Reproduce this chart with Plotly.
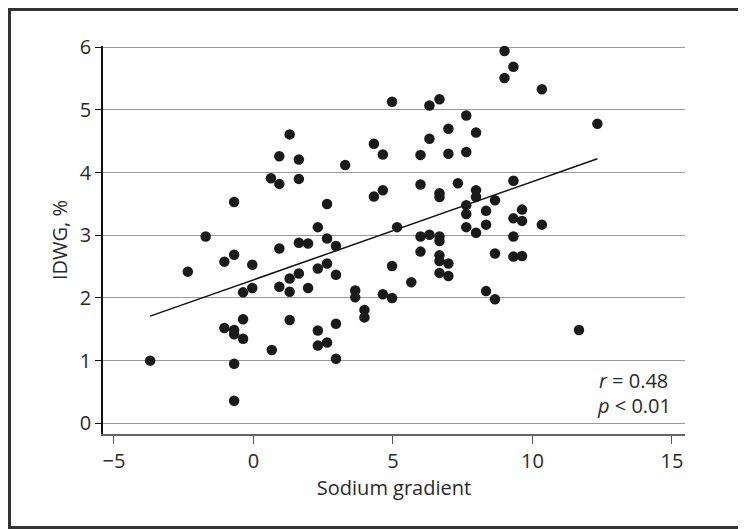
import plotly.graph_objects as go

# Data
sodium_gradient = [
    -0.69, 0.63, 0.93, 0.93, -1.71, -2.35, -1.04, -0.69, -0.04, 0.93,
    0.93, -0.04, -0.37, -0.37, -1.04, -0.69, -0.69, -0.37, 0.66, -3.70,
    -0.69, -0.69, 1.30, 1.63, 1.63, 2.64, 2.31, 3.29, 4.32, 4.64,
    4.97, 4.32, 4.64, 5.15, 5.99, 6.31, 6.67, 6.31, 6.99, 6.99,
    7.63, 7.63, 5.99, 6.67, 6.67, 7.33, 7.63, 7.63, 7.63, 1.63,
    1.96, 1.30, 1.63, 1.30, 1.96, 2.64, 2.96, 2.31, 2.64, 2.96,
    1.30, 2.31, 2.96, 2.31, 2.64, 2.96, 3.65, 3.65, 3.98, 3.98,
    4.64, 4.97, 4.97, 5.66, 5.99, 6.31, 6.67, 6.67, 5.99, 6.67,
    6.67, 6.99, 6.67, 6.99, 9.00, 9.32, 9.00, 10.34, 12.33, 7.98,
    9.32, 7.98, 7.98, 8.66, 8.34, 9.63, 9.32, 9.63, 8.34, 10.34,
    7.98, 9.32, 8.66, 9.32, 9.63, 8.34, 8.66, 11.67,
]
idwg = [
    3.53, 3.91, 4.26, 3.82, 2.98, 2.42, 2.58, 2.69, 2.53, 2.79,
    2.18, 2.16, 2.09, 1.66, 1.52, 1.49, 1.42, 1.35, 1.17, 1.00,
    0.95, 0.36, 4.61, 4.21, 3.90, 3.50, 3.13, 4.12, 4.46, 4.29,
    5.13, 3.62, 3.72, 3.13, 4.28, 5.07, 5.17, 4.54, 4.70, 4.30,
    4.91, 4.33, 3.81, 3.67, 3.61, 3.83, 3.48, 3.34, 3.13, 2.88,
    2.87, 2.31, 2.39, 2.10, 2.16, 2.95, 2.83, 2.47, 2.55, 2.37,
    1.65, 1.48, 1.59, 1.24, 1.29, 1.03, 2.12, 2.01, 1.81, 1.69,
    2.06, 2.00, 2.51, 2.25, 2.98, 3.01, 2.98, 2.91, 2.74, 2.68,
    2.59, 2.55, 2.40, 2.35, 5.94, 5.69, 5.51, 5.33, 4.78, 4.64,
    3.87, 3.72, 3.61, 3.56, 3.39, 3.41, 3.27, 3.23, 3.17, 3.17,
    3.04, 2.98, 2.71, 2.66, 2.67, 2.11, 1.98, 1.49,
]
fit_x = [-3.70, 12.33]
fit_y = [1.71, 4.22]

x_ticks = [-5, 0, 5, 10, 15]
y_ticks = [0, 1, 2, 3, 4, 5, 6]

# The page body has an 8px margin, so the figure is sized to end at the window edge
W, H = 738, 521
ML, MR, MT, MB = 95, 61, 38, 95
PW, PH = W - ML - MR, H - MT - MB

FONT = "Open Sans"
TXT = "#2a2a2a"
FS = 20

fig = go.Figure()
fig.add_trace(go.Scatter(
    x=fit_x, y=fit_y, mode="lines",
    line=dict(color="#111111", width=1.5),
    hoverinfo="skip", showlegend=False,
))
fig.add_trace(go.Scatter(
    x=sodium_gradient, y=idwg, mode="markers",
    marker=dict(size=10.5, color="#1a1a1a", line=dict(width=0)),
    showlegend=False,
))

fig.update_layout(
    width=W, height=H,
    margin=dict(l=ML, r=MR, t=MT, b=MB, pad=0),
    paper_bgcolor="white", plot_bgcolor="white",
    font=dict(family=FONT, size=FS, color=TXT),
    xaxis=dict(
        range=[-5.39, 15.47], tickvals=x_ticks,
        showgrid=False, zeroline=False,
        showline=True, linecolor="#666666", linewidth=1.5,
        ticks="outside", ticklen=8, tickwidth=1.2, tickcolor="#555555",
        tickfont=dict(size=FS, color=TXT),
        title=dict(text="Sodium gradient", font=dict(size=FS, color=TXT), standoff=4),
    ),
    yaxis=dict(
        range=[-0.17, 6.02], tickvals=y_ticks,
        showgrid=True, gridcolor="#9a9a9a", gridwidth=1.3,
        zeroline=False,
        showline=True, linecolor="#111111", linewidth=1.5,
        ticks="outside", ticklen=6, tickwidth=1.2, tickcolor="#111111",
        tickfont=dict(size=FS, color=TXT),
        title=dict(text="IDWG, %", font=dict(size=FS, color=TXT), standoff=7),
    ),
    shapes=[dict(
        type="rect", xref="paper", yref="paper",
        x0=(1.5 - ML) / PW, x1=(W - 1.5 - ML) / PW,
        y0=-(H - 1.5 - MT - PH) / PH, y1=1 + (MT - 1.5) / PH,
        line=dict(color="#333333", width=3), fillcolor="rgba(0,0,0,0)",
        layer="above",
    )],
    annotations=[
        dict(x=14.95, y=0.68, xref="x", yref="y", xanchor="right", yanchor="middle",
             text="<i>r</i> = 0.48", showarrow=False, font=dict(size=FS, color=TXT)),
        dict(x=15.05, y=0.29, xref="x", yref="y", xanchor="right", yanchor="middle",
             text="<i>p</i> &lt; 0.01", showarrow=False, font=dict(size=FS, color=TXT)),
    ],
)

fig.write_html("out.html")
